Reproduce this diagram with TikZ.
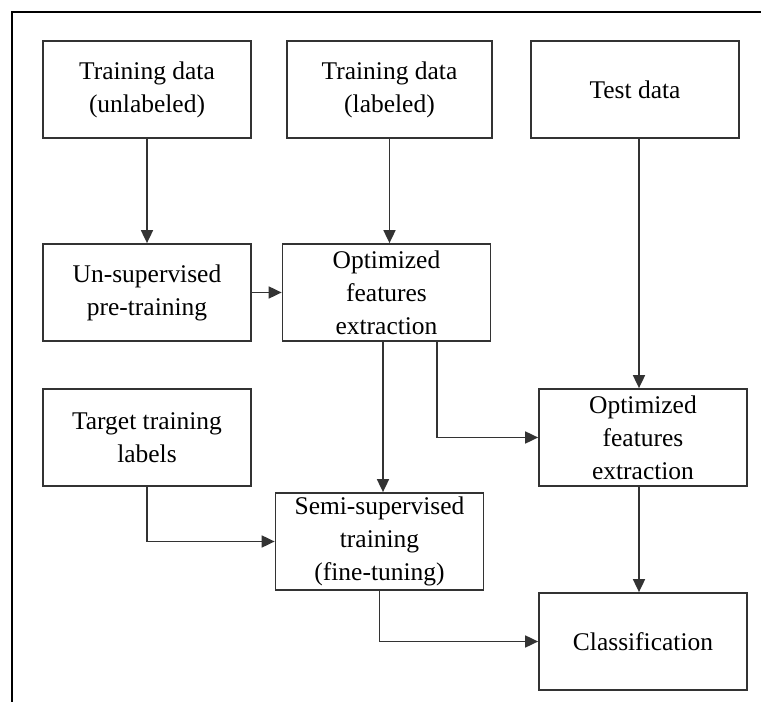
\documentclass[tikz,border=0pt]{standalone}
\usepackage{fontspec}
\setmainfont{Liberation Serif}
\usetikzlibrary{arrows.meta}

\begin{document}
\begin{tikzpicture}[x=0.02cm,y=-0.02cm,
    every node/.style={font=\fontsize{14.5}{18.8}\selectfont},
    blk/.style={draw=black!80,line width=1pt,minimum width=4.16cm,minimum height=1.94cm,align=center,inner sep=2pt},
    arr/.style={draw=black!80,line width=1pt,-{Triangle[length=0.26cm,width=0.24cm]}}]
    \useasboundingbox (0,0) rectangle (761,702);
    % frame
    \draw[line width=0.9pt] (12,702) -- (12,12) -- (761,12);
    % top row
    \node[blk] (unlab) at (147,89.5) {Training data\\(unlabeled)};
    \node[blk,minimum width=4.1cm] (lab) at (389.5,89.5) {Training data\\(labeled)};
    \node[blk] (test) at (635,89.5) {Test data};
    % middle
    \node[blk] (pretrain) at (147,292.5) {Un-supervised\\pre-training};
    \node[blk] (feat1) at (386.5,292.5) {Optimized\\features\\extraction};
    \node[blk] (target) at (147,437.5) {Target training\\labels};
    \node[blk] (feat2) at (643,437.5) {Optimized\\features\\extraction};
    % bottom
    \node[blk] (semi) at (379.5,541.5) {Semi-supervised\\training\\(fine-tuning)};
    \node[blk] (class) at (643,641.5) {Classification};
    % arrows
    \draw[arr] (unlab) -- (pretrain);
    \draw[arr] (lab.south) -- (lab.south |- feat1.north);
    \draw[arr] (pretrain.east) -- (feat1.west);
    \draw[arr] ([xshift=-0.07cm]feat1.south) -- ([xshift=-0.07cm]feat1.south |- semi.north);
    \draw[arr] ([xshift=1.01cm]feat1.south) |- (feat2.west);
    \draw[arr] ([xshift=0.08cm]test.south) -- ([xshift=0.08cm]test.south |- feat2.north);
    \draw[arr] ([xshift=-0.08cm]feat2.south) -- ([xshift=-0.08cm]feat2.south |- class.north);
    \draw[arr] (target.south) |- (semi.west);
    \draw[arr] (semi.south) |- (class.west);
\end{tikzpicture}
\end{document}
